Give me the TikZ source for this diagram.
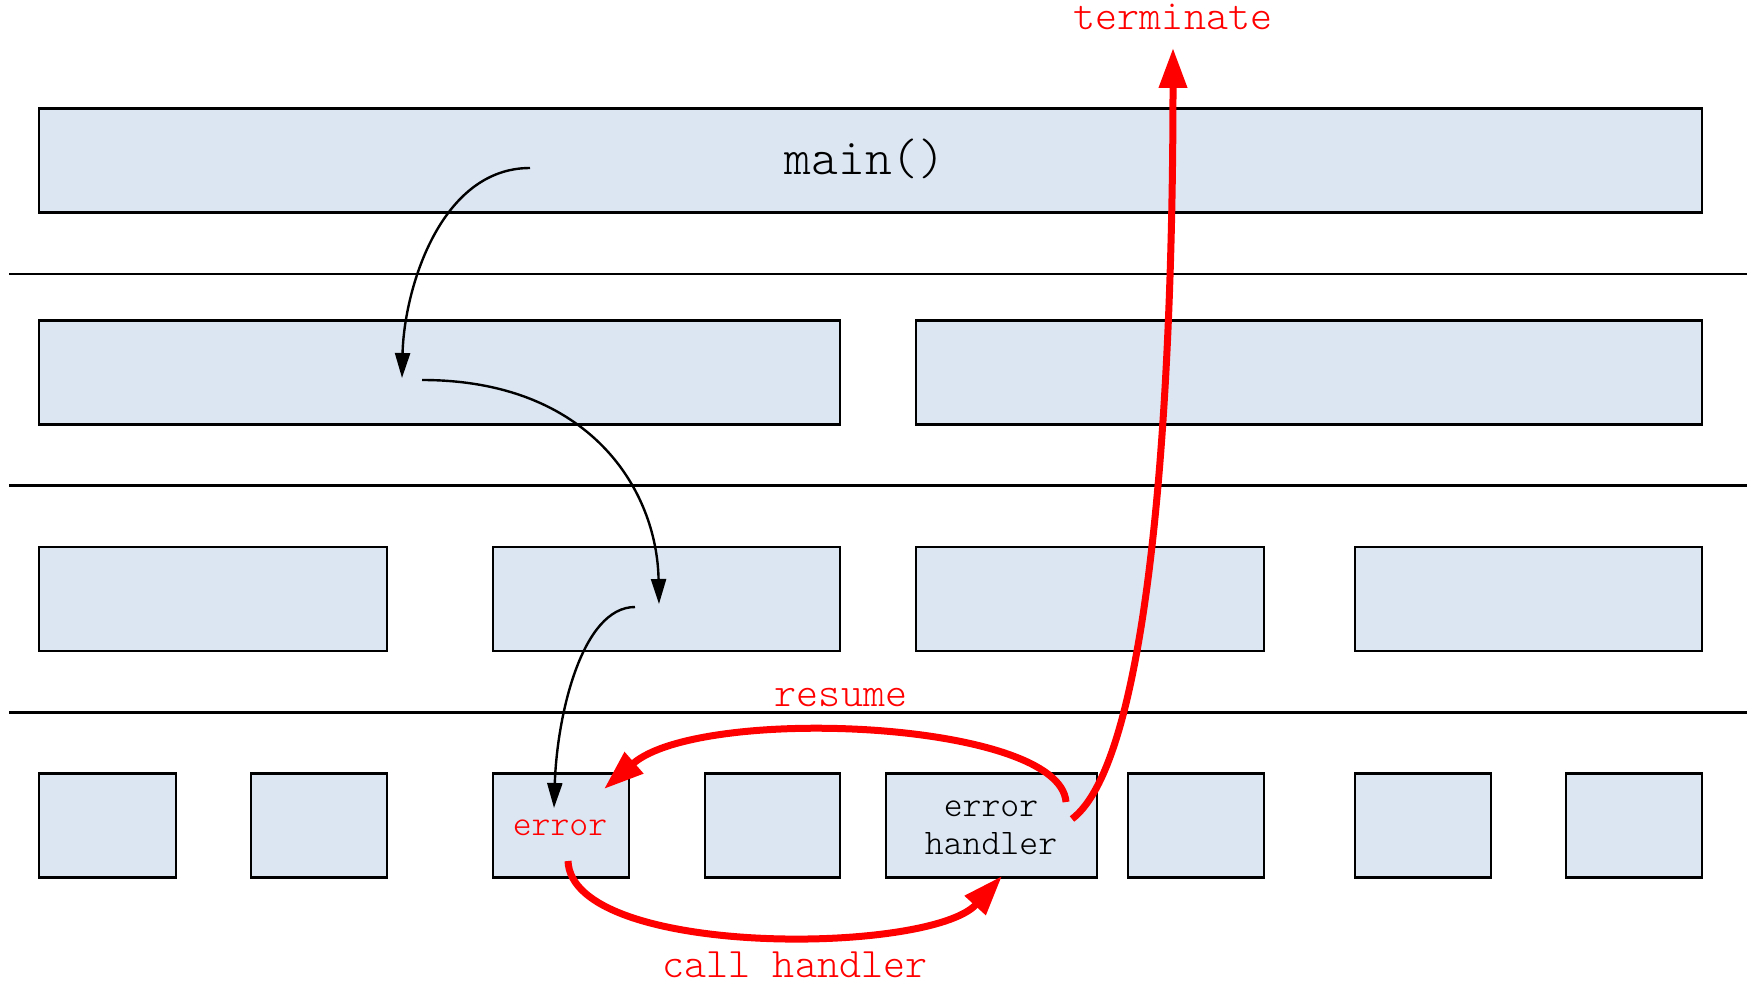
\documentclass[tikz,border=0pt]{standalone}
\usepackage{fontspec}
\setmonofont{Latin Modern Mono Light}
\usetikzlibrary{arrows.meta}
\definecolor{boxfill}{HTML}{DCE6F2}
\definecolor{errred}{HTML}{FF0000}
\begin{document}
\begin{tikzpicture}[x=1pt,y=-1pt,
 box/.style={draw=black, line width=2.7pt, fill=boxfill, minimum height=104pt, inner sep=0pt, outer sep=0pt},
 sepline/.style={line width=2.6pt},
 flow/.style={line width=2.4pt, -{Triangle[length=25pt,width=15pt]}},
 redflow/.style={draw=errred, line width=7pt, -{Triangle[length=40pt,width=27pt]}},
 redlbl/.style={font=\ttfamily\fontsize{42}{50}\selectfont, text=errred, inner sep=0pt, anchor=base},
 inlbl/.style={font=\ttfamily\fontsize{36}{43}\selectfont, inner sep=0pt, anchor=base}
]
\useasboundingbox (0,0) rectangle (1754,987);

% separators
\coordinate (s1l) at (9,274);   \coordinate (s1r) at (1747,274);
\coordinate (s2l) at (9,485.5); \coordinate (s2r) at (1747,485.5);
\coordinate (s3l) at (9,712.5); \coordinate (s3r) at (1747,712.5);
\draw[sepline] (s1l) -- (s1r);
\draw[sepline] (s2l) -- (s2r);
\draw[sepline] (s3l) -- (s3r);

% level 0
\node[box, minimum width=1663pt] (main) at (870.5,160.5) {};
\node[font=\ttfamily\fontsize{51}{60}\selectfont, inner sep=0pt, anchor=base] (maintxt) at (865,175) {main()};

% level 1
\node[box, minimum width=801pt] (a1) at (439.5,372.5) {};
\node[box, minimum width=786pt] (a2) at (1309,372.5) {};

% level 2
\node[box, minimum width=348pt] (b1) at (213,599) {};
\node[box, minimum width=347pt] (b2) at (666.5,599) {};
\node[box, minimum width=348pt] (b3) at (1090,599) {};
\node[box, minimum width=347pt] (b4) at (1528.5,599) {};

% level 3
\node[box, minimum width=137pt] (c1) at (107.5,825.5) {};
\node[box, minimum width=136pt] (c2) at (319,825.5) {};
\node[box, minimum width=136pt] (c3) at (561,825.5) {};
\node[box, minimum width=135pt] (c4) at (772.5,825.5) {};
\node[box, minimum width=211pt] (c5) at (991.5,825.5) {};
\node[box, minimum width=136pt] (c6) at (1196,825.5) {};
\node[box, minimum width=136pt] (c7) at (1423,825.5) {};
\node[box, minimum width=136pt] (c8) at (1634,825.5) {};

\node[inlbl, text=errred] (errtxt) at (560,835) {error};
\node[inlbl] (eh1) at (991,816) {error};
\node[inlbl] (eh2) at (991,854) {handler};

% labels
\node[redlbl] (term) at (1173,30) {terminate};
\node[redlbl] (res) at (841,706) {resume};
\node[redlbl] (call) at (795,977) {call handler};

% black call chain
\coordinate (p0) at (530,168);
\coordinate (p1) at (402,378);
\coordinate (q0) at (422,380);
\coordinate (q1) at (659,604);
\coordinate (r0) at (635,607);
\coordinate (r1) at (554,808);
\draw[flow] (p0) .. controls (440,168) and (404,290) .. (p1);
\draw[flow] (q0) .. controls (590,380) and (657,490) .. (q1);
\draw[flow] (r0) .. controls (582,607) and (557,715) .. (r1);

% red flows
\coordinate (h0) at (568,861);
\coordinate (h1) at (1002,876);
\coordinate (u0) at (1066,802);
\coordinate (u1) at (604,789);
\coordinate (t0) at (1072,819);
\coordinate (t1) at (1173,48);
\draw[redflow] (h0) .. controls (572,958) and (930,955) .. (h1);
\draw[redflow] (u0) .. controls (1060,720) and (700,705) .. (u1);
\draw[redflow] (t0) .. controls (1150,760) and (1173,400) .. (t1);
\end{tikzpicture}
\end{document}
